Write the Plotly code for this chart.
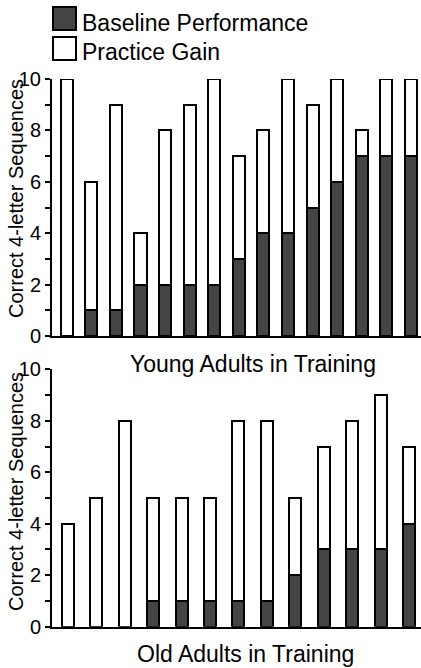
import plotly.graph_objects as go
from plotly.subplots import make_subplots

# Correct 4-letter sequences per participant: baseline and gain after practice
young_ids = list(range(1, 16))
young_baseline = [0, 1, 1, 2, 2, 2, 2, 3, 4, 4, 5, 6, 7, 7, 7]
young_total = [10, 6, 9, 4, 8, 9, 10, 7, 8, 10, 9, 10, 8, 10, 10]

old_ids = list(range(1, 14))
old_baseline = [0, 0, 0, 1, 1, 1, 1, 1, 2, 3, 3, 3, 4]
old_total = [4, 5, 8, 5, 5, 5, 8, 8, 5, 7, 8, 9, 7]

young_gain = [t - b for t, b in zip(young_total, young_baseline)]
old_gain = [t - b for t, b in zip(old_total, old_baseline)]

W, H = 421, 668
DARK = "#444444"
FONT = "Liberation Sans, Arial, sans-serif"


def px_x(p):
    return p / W


def px_y(p):
    return 1 - p / H


fig = make_subplots(rows=2, cols=1)

line = dict(color="black", width=2)
for row, ids, base, gain, w in [
    (1, young_ids, young_baseline, young_gain, 0.49),
    (2, old_ids, old_baseline, old_gain, 0.42),
]:
    fig.add_trace(go.Bar(x=ids, y=base, name="Baseline Performance", width=w,
                         marker=dict(color=DARK, line=line), showlegend=False),
                  row=row, col=1)
    fig.add_trace(go.Bar(x=ids, y=gain, name="Practice Gain", width=w,
                         marker=dict(color="white", line=line), showlegend=False),
                  row=row, col=1)

xdom = [52 / W, 1.0]
xcommon = dict(showline=True, linecolor="black", linewidth=2, ticks="",
               showticklabels=False, showgrid=False, zeroline=False,
               domain=xdom, automargin=False)
ycommon = dict(range=[0, 10], showline=True, linecolor="black", linewidth=2,
               ticks="outside", ticklen=5, tickwidth=2, tickcolor="black",
               dtick=2, tick0=0, showgrid=False, zeroline=False, automargin=False,
               tickfont=dict(size=20, color="black", family=FONT),
               minor=dict(dtick=1, ticks="outside", ticklen=5, tickwidth=2,
                          tickcolor="black", showgrid=False))

fig.update_layout(
    xaxis=dict(range=[0.4, 15.41], **xcommon),
    xaxis2=dict(range=[0.445, 13.42], **xcommon),
    yaxis=dict(domain=[px_y(336), px_y(79)], **ycommon),
    yaxis2=dict(domain=[px_y(626.7), px_y(369.3)], **ycommon),
)

# Legend swatches and labels
shapes = [
    dict(type="rect", xref="paper", yref="paper",
         x0=px_x(53), x1=px_x(76), y0=px_y(30), y1=px_y(7),
         fillcolor=DARK, line=dict(color="black", width=2)),
    dict(type="rect", xref="paper", yref="paper",
         x0=px_x(53), x1=px_x(76), y0=px_y(60), y1=px_y(37),
         fillcolor="white", line=dict(color="black", width=2)),
]

annotations = [
    dict(text="Baseline Performance", x=px_x(80), y=px_y(23), xanchor="left",
         yanchor="middle", font=dict(size=23)),
    dict(text="Practice Gain", x=px_x(80), y=px_y(52), xanchor="left",
         yanchor="middle", font=dict(size=23)),
    dict(text="Young Adults in Training", x=px_x(253), y=px_y(364),
         xanchor="center", yanchor="middle", font=dict(size=23)),
    dict(text="Old Adults in Training", x=px_x(246), y=px_y(654),
         xanchor="center", yanchor="middle", font=dict(size=23)),
    dict(text="Correct 4-letter Sequences", x=px_x(16), y=px_y(199),
         textangle=-90, xanchor="center", yanchor="middle", font=dict(size=20)),
    dict(text="Correct 4-letter Sequences", x=px_x(16), y=px_y(492),
         textangle=-90, xanchor="center", yanchor="middle", font=dict(size=20)),
]
for a in annotations:
    a.update(xref="paper", yref="paper", showarrow=False)
    a["font"].update(color="black", family=FONT)

fig.update_layout(
    width=W, height=H,
    margin=dict(l=0, r=0, t=0, b=0, autoexpand=False),
    barmode="stack",
    plot_bgcolor="white", paper_bgcolor="white",
    shapes=shapes, annotations=annotations,
    font=dict(family=FONT, color="black"),
    showlegend=False,
)

fig.write_html("out.html")
